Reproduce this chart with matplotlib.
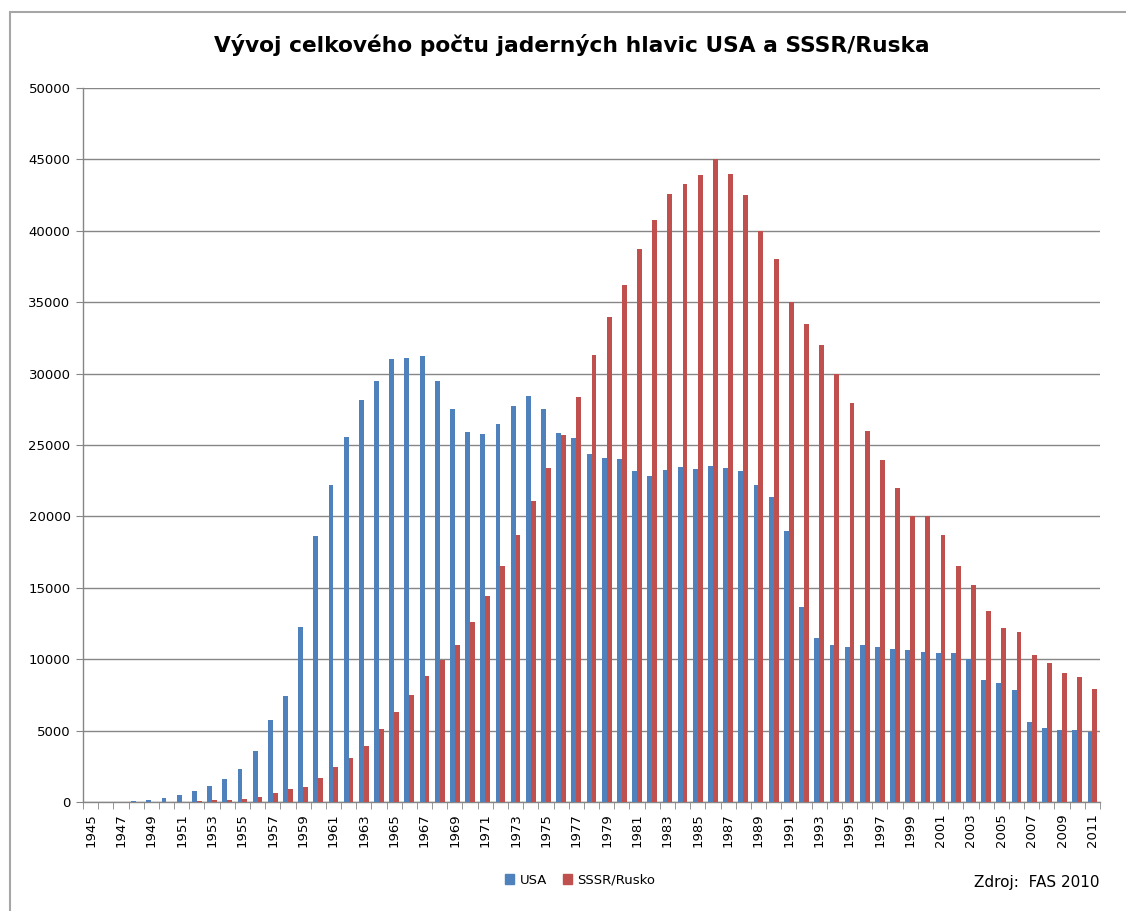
import matplotlib

matplotlib.use('Agg')
import matplotlib.pyplot as plt
import numpy as np
from matplotlib.patches import Rectangle, Patch
from matplotlib.ticker import FixedLocator

# Data (FAS 2010)
years = list(range(1945, 2012))
usa = [2, 9, 13, 50, 170, 280, 466, 793, 1142, 1585, 2284, 3590, 5758, 7413, 12261, 18625,
       22199, 25560, 28151, 29482, 31055, 31102, 31242, 29515, 27508, 25945,
       25758, 26458, 27742, 28442, 27508, 25828, 25502, 24382, 24102, 24032,
       23145, 22795, 23238, 23425, 23332, 23495, 23400, 23156, 22212, 21327,
       18997, 13687, 11504, 10973, 10885, 10973, 10885, 10708, 10619, 10531,
       10442, 10442, 10000, 8525, 8348, 7817, 5634, 5192, 5015, 5015, 4926]
ussr = [0, 0, 0, 0, 1, 5, 25, 50, 117, 117, 186, 373, 653, 886, 1072, 1678,
        2471, 3077, 3939, 5086, 6294, 7513, 8796, 9963, 10990, 12623,
        14443, 16542, 18712, 21045, 23402, 25735, 28372, 31311, 33963, 36204,
        38725, 40756, 42577, 43277, 43908, 45000, 44000, 42507, 39970, 37994,
        34985, 33451, 31976, 30000, 27965, 25959, 23982, 21976, 20000, 20000,
        18732, 16549, 15162, 13392, 12183, 11917, 10265, 9764, 9056, 8732, 7935]

title = "Vývoj celkového počtu jaderných hlavic USA a SSSR/Ruska"
labels = ["USA", "SSSR/Rusko"]
source = "Zdroj:  FAS 2010"

blue = '#4F81BD'
red = '#C0504D'
grid_col = '#868686'

fig = plt.figure(figsize=(11.26, 9.11), dpi=100)

# ramecek grafu (Excel) - pravy a spodni okraj jsou orizle
fig.patches.append(Rectangle((10 / 1126, -0.1), 2, 1.1 - 12 / 911, transform=fig.transFigure,
                             facecolor='none', edgecolor='#A6A6A6', linewidth=1.5))

ax = fig.add_axes([83 / 1126, 1 - 802 / 911, (1100 - 83) / 1126, (802 - 88) / 911])

x = np.arange(len(years))
w = 0.32
ax.bar(x - w / 2, usa, width=w, color=blue, label=labels[0], zorder=3)
ax.bar(x + w / 2, ussr, width=w, color=red, label=labels[1], zorder=3)

ax.set_xlim(-0.5, len(years) - 0.5)
ax.set_ylim(0, 50000)
ax.set_yticks(np.arange(0, 50001, 5000))
ax.yaxis.grid(True, color=grid_col, linewidth=1.0, zorder=0)
ax.tick_params(axis='y', length=5, color=grid_col, labelsize=9.5, pad=4)

# popisky x - kazdy druhy rok
ax.set_xticks(x[::2])
ax.set_xticklabels([str(y) for y in years[::2]], rotation=90, fontsize=9.5)
ax.tick_params(axis='x', which='major', length=0, pad=8)
ax.xaxis.set_minor_locator(FixedLocator(np.arange(-0.5, len(years), 1)))
ax.tick_params(axis='x', which='minor', length=5, color=grid_col)

for s in ['top', 'right']:
    ax.spines[s].set_visible(False)
for s in ['left', 'bottom']:
    ax.spines[s].set_color(grid_col)
    ax.spines[s].set_linewidth(1.0)

fig.text(572 / 1126, 1 - 45 / 911, title, ha='center', va='center', fontsize=15.7,
         fontweight='bold')

handles = [Patch(color=blue, label=labels[0]), Patch(color=red, label=labels[1])]
fig.legend(handles=handles, loc='center', bbox_to_anchor=(580 / 1126, 1 - 880 / 911), ncol=2,
           frameon=False, fontsize=9.5, handlelength=0.7, handleheight=0.7, handletextpad=0.4,
           columnspacing=1.2)

fig.text(1100 / 1126, 1 - 883 / 911, source, ha='right', va='center', fontsize=11)

fig.savefig("out.png", dpi=100)
plt.close()
